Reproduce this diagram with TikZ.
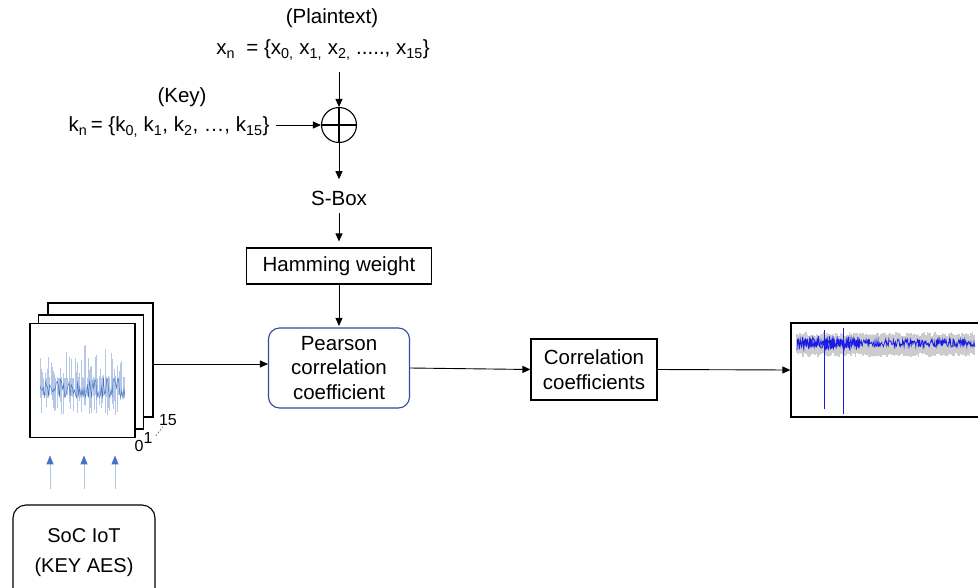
\documentclass[tikz,border=0pt]{standalone}
\usepackage{fontspec}
\setmainfont{Liberation Sans}
\usetikzlibrary{arrows.meta}

\newcommand\lowidx[1]{\textsubscript{#1}}
\definecolor{pearblue}{HTML}{2F4D9C}
\definecolor{tracedark}{HTML}{4472C4}
\definecolor{tracelight}{HTML}{B4C7E7}
\definecolor{plotblue}{HTML}{1A1AE6}

\begin{document}
\begin{tikzpicture}[
    x=1pt, y=-1pt,
    >={Triangle[length=8pt,width=7pt]},
    every node/.style={font=\fontsize{20.5}{24.5}\selectfont},
    flowarrow/.style={->, line width=0.9pt},
    procbox/.style={
        draw, line width=1.1pt, inner sep=0pt, align=center,
    },
    pearbox/.style={
        draw=pearblue, line width=1.1pt, rounded corners=11pt,
        inner sep=0pt, align=center,
    },
    tracecard/.style={
        draw, line width=1.3pt, fill=white,
        minimum width=105pt, minimum height=114pt, inner sep=0pt,
    },
    idxlabel/.style={font=\fontsize{16}{18}\selectfont, inner sep=0pt},
    feedarrow/.style={
        -{Triangle[length=9pt,width=7pt,color=tracedark]},
        draw=tracelight, line width=1pt,
    },
]
\useasboundingbox (0,0) rectangle (978,587);

% ── Plaintext and key ───────────────────────────────────────
\node (plainlbl) at (332,18) {(Plaintext)};
\node (xline) at (323,50)
    {x\lowidx{n}\ \ = \{x\lowidx{0,} x\lowidx{1,} x\lowidx{2,} ....., x\lowidx{15}\}};
\node (keylbl) at (182,97) {(Key)};
\node (kline) at (169,127)
    {k\lowidx{n}\,= \{k\lowidx{0,} k\lowidx{1}, k\lowidx{2}, …, k\lowidx{15}\}};

\node[circle, draw, line width=1.1pt, minimum size=35pt, inner sep=0pt]
    (xorop) at (339,125) {};
\draw[line width=2.2pt] (xorop.north) -- (xorop.south)
                        (xorop.west) -- (xorop.east);

% ── Leakage model chain ─────────────────────────────────────
\node (sbox) at (339,198) {S-Box};
\node[procbox, minimum width=185pt, minimum height=36pt]
    (hamm) at (339,266) {Hamming weight};
\node[pearbox, minimum width=141pt, minimum height=80pt]
    (pearson) at (339,368) {Pearson\\correlation\\coefficient};
\node[procbox, minimum width=126pt, minimum height=61pt]
    (corrco) at (594,369.5) {Correlation\\coefficients};
\node[draw, line width=1.3pt, minimum width=200pt, minimum height=94pt]
    (plotbox) at (891,370) {};

% ── Trace stack ─────────────────────────────────────────────
\node[tracecard] (stack2) at (100.5,360) {};
\node[tracecard] (stack1) at (91,372) {};
\node[tracecard] (stack0) at (82.5,380.5) {};

\pgfmathsetseed{17}
\foreach \i in {0,...,70} {
    \pgfmathsetmacro{\xx}{40+1.2*\i}
    \pgfmathsetmacro{\ya}{378-34*pow(rnd,3)}
    \pgfmathsetmacro{\yb}{395+20*pow(rnd,2)}
    \draw[tracelight, line width=0.6pt] (\xx,\ya) -- (\xx,\yb);
}
\draw[tracedark, line width=0.5pt]
    plot[domain=40:125, samples=80] (\x, {388+10*rand});

\node[idxlabel] (idx0) at (139,446) {0};
\node[idxlabel] (idx1) at (148,438) {1};
\node[idxlabel] (idx15) at (168,420) {15};
\draw[black!60, line width=0.6pt, dash pattern=on 2pt off 1.5pt]
    ([xshift=3pt, yshift=2pt]idx1.east) -- ([xshift=4pt, yshift=-1pt]idx15.south west);

% ── Device ──────────────────────────────────────────────────
\node[draw, line width=1.1pt, rounded corners=13pt, minimum width=142pt,
      minimum height=96pt, align=center, font=\fontsize{20}{30}\selectfont]
    (soc) at (84,553) {SoC IoT\\(KEY AES)};
\foreach \dx in {-34,0,31} {
    \draw[feedarrow] ([xshift=\dx pt, yshift=15pt]soc.north) -- ++(0,-34);
}

% ── Result plot ─────────────────────────────────────────────
\foreach \i in {0,...,118} {
    \pgfmathsetmacro{\xx}{797+1.5*\i}
    \pgfmathsetmacro{\ya}{336-4*rnd}
    \pgfmathsetmacro{\yb}{353+4*rnd}
    \draw[gray!40, line width=1.6pt] (\xx,\ya) -- (\xx,\yb);
}
\draw[plotblue, line width=0.7pt]
    plot[domain=797:975, samples=350] (\x, {343+4*rand});
\draw[plotblue, line width=0.7pt]
    plot[domain=797:860, samples=120] (\x, {343+7*rand});
\draw[plotblue, line width=1pt] (824,330) -- (824,409)
                                (843,328) -- (843,414);

% ── Arrows ──────────────────────────────────────────────────
\coordinate (pearin) at ([yshift=4pt]pearson.west);
\draw[flowarrow, shorten <=9pt] (xorop |- xline.south) -- (xorop.north);
\draw[flowarrow, shorten <=3pt] (kline.east |- xorop.west) -- (xorop.west);
\draw[flowarrow, shorten >=8pt] (xorop.south) -- (sbox.north);
\draw[flowarrow, shorten <=4pt, shorten >=6pt] (sbox.south) -- (hamm.north);
\draw[flowarrow, shorten >=1.5pt] (hamm.south) -- (pearson.north);
\draw[flowarrow] (stack2.east |- pearin) -- (pearin);
\draw[flowarrow] (pearson.east) -- (corrco.west);
\draw[flowarrow] (corrco.east) -- (plotbox.west);

\end{tikzpicture}
\end{document}
